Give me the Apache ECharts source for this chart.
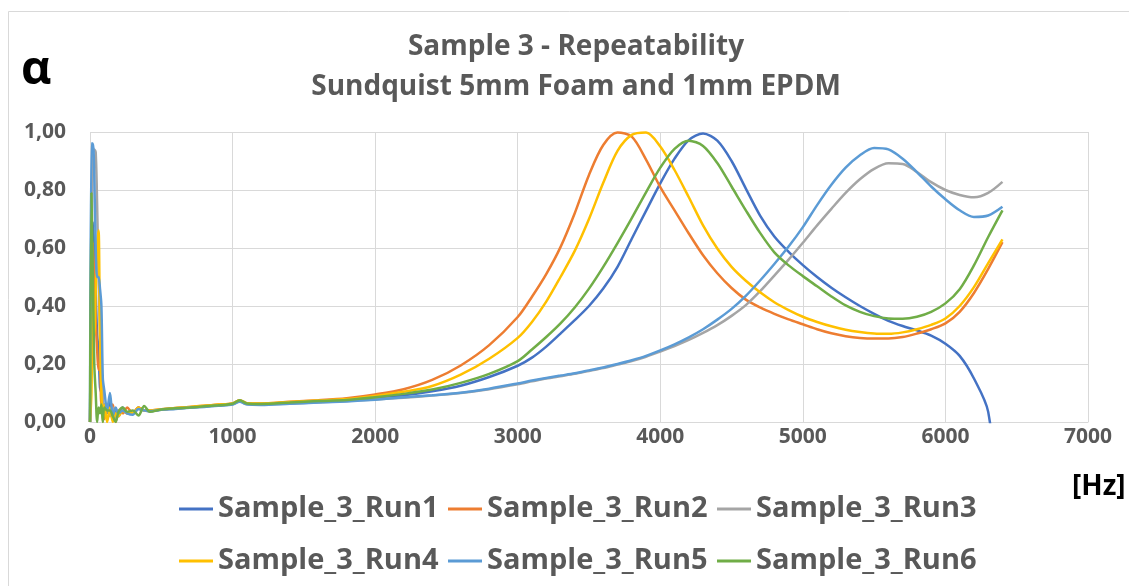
<!DOCTYPE html>
<html>
<head>
<meta charset="utf-8">
<script src="https://cdn.jsdelivr.net/npm/echarts@6/dist/echarts.min.js"></script>
<style>
html,body{margin:0;padding:0;background:#fff;}
#chart{width:1129px;height:586px;}
</style>
</head>
<body>
<div id="chart"></div>
<script>
// ---------- DATA ----------
const titleLines = ['Sample 3 - Repeatability', 'Sundquist 5mm Foam and 1mm EPDM'];
const seriesNames = ['Sample_3_Run1', 'Sample_3_Run2', 'Sample_3_Run3', 'Sample_3_Run4', 'Sample_3_Run5', 'Sample_3_Run6'];
const seriesColors = ['#4472C4', '#ED7D31', '#A5A5A5', '#FFC000', '#5B9BD5', '#70AD47'];

// frequencies [Hz]
const freqs = [0,10,20,30,40,50,60,70,80,90,100,
  120,140,160,180,200,230,260,300,340,380,420,
  500,600,700,800,900,1000,1050,1100,1200,
  1400,1600,1800,2000,2200,2400,2600,2800,
  3000,3100,3200,3300,3400,3500,3600,3700,3800,3900,
  4000,4100,4200,4300,4400,4500,4600,4700,4800,4900,
  5000,5100,5200,5300,5400,5500,5600,5700,5800,5900,
  6000,6100,6200,6300,6400];

const run1 = [0,0.55,0.69,0.6,0.45,0.3,0.25,0.12,0.1,0.04,0.06,
  0.03,0.07,0.01,0.04,0.02,0.05,0.03,0.03,0.05,0.04,0.038,
  0.043,0.047,0.05,0.054,0.058,0.062,0.072,0.062,0.061,
  0.065,0.069,0.075,0.082,0.092,0.106,0.125,0.155,
  0.194,0.222,0.26,0.305,0.351,0.4,0.46,0.535,0.632,0.728,
  0.823,0.908,0.972,0.995,0.97,0.9,0.805,0.712,0.64,0.587,
  0.541,0.5,0.463,0.43,0.4,0.373,0.349,0.331,0.316,0.298,
  0.27,0.228,0.15,0.035,-0.4];

const run2 = [0,0.3,0.62,0.5,0.35,0.25,0.18,0.2,0.06,0.06,0.01,
  0.05,0.03,0.06,0.0,0.04,0.03,0.05,0.03,0.05,0.04,0.04,
  0.044,0.048,0.052,0.056,0.06,0.064,0.075,0.065,0.064,
  0.07,0.075,0.082,0.095,0.113,0.145,0.195,0.265,
  0.362,0.432,0.51,0.603,0.72,0.852,0.955,0.998,0.984,0.905,
  0.81,0.73,0.65,0.575,0.513,0.462,0.422,0.395,0.373,0.354,
  0.337,0.32,0.306,0.296,0.29,0.288,0.288,0.293,0.305,0.32,
  0.34,0.38,0.445,0.528,0.62];

const run3 = [0,0.5,0.93,0.94,0.93,0.75,0.5,0.3,0.15,0.1,0.03,
  0.06,0.02,0.05,0.01,0.03,0.04,0.03,0.03,0.045,0.04,0.038,
  0.042,0.046,0.05,0.053,0.057,0.061,0.072,0.062,0.061,
  0.064,0.068,0.072,0.078,0.084,0.091,0.1,0.113,
  0.13,0.14,0.15,0.158,0.166,0.176,0.186,0.198,0.21,0.225,
  0.243,0.262,0.283,0.307,0.334,0.366,0.403,0.451,0.505,0.56,
  0.618,0.678,0.735,0.79,0.837,0.873,0.892,0.89,0.862,0.827,
  0.8,0.783,0.775,0.79,0.828];

const run4 = [0,0.1,0.4,0.3,0.45,0.6,0.66,0.3,0.1,0.0,0.06,
  0.0,0.05,0.0,0.03,0.02,0.04,0.03,0.03,0.05,0.04,0.04,
  0.044,0.048,0.052,0.056,0.06,0.064,0.075,0.065,0.064,
  0.069,0.074,0.079,0.09,0.104,0.124,0.163,0.218,
  0.29,0.345,0.415,0.5,0.59,0.7,0.825,0.935,0.99,0.998,
  0.95,0.869,0.775,0.678,0.598,0.535,0.487,0.447,0.413,0.386,
  0.363,0.345,0.33,0.318,0.31,0.305,0.304,0.309,0.32,0.335,
  0.357,0.4,0.465,0.548,0.63];

const run5 = [0,0.96,0.96,0.85,0.6,0.5,0.5,0.46,0.4,0.15,0.11,
  0.04,0.1,0.02,0.05,0.03,0.04,0.03,0.025,0.045,0.04,0.037,
  0.042,0.045,0.049,0.052,0.056,0.06,0.07,0.061,0.059,
  0.063,0.067,0.071,0.077,0.085,0.092,0.101,0.115,
  0.133,0.143,0.152,0.16,0.168,0.178,0.188,0.2,0.213,0.228,
  0.247,0.268,0.292,0.32,0.353,0.39,0.435,0.488,0.545,0.605,
  0.672,0.748,0.818,0.877,0.92,0.945,0.94,0.908,0.862,0.812,
  0.768,0.73,0.707,0.712,0.742];

const run6 = [0,0.79,0.5,0.2,0.1,0.0,0.05,0.03,0.06,0.0,0.05,
  0.04,0.04,0.02,0.0,0.035,0.05,0.035,0.04,0.022,0.055,0.035,
  0.043,0.047,0.05,0.054,0.058,0.063,0.075,0.064,0.062,
  0.067,0.072,0.076,0.085,0.097,0.112,0.135,0.166,
  0.21,0.25,0.293,0.34,0.395,0.46,0.535,0.617,0.703,0.792,
  0.877,0.942,0.97,0.952,0.893,0.812,0.73,0.652,0.585,0.54,
  0.503,0.468,0.433,0.402,0.38,0.365,0.357,0.356,0.363,0.38,
  0.409,0.458,0.54,0.638,0.73];

const runs = [run1, run2, run3, run4, run5, run6];

// axis settings
const xMin = 0, xMax = 7000, xStep = 1000;
const yMin = 0, yMax = 1, yStep = 0.2;

// ---------- CHART ----------
const FONT = 'Open Sans';
const chart = echarts.init(document.getElementById('chart'), null, {renderer: 'canvas'});

const series = runs.map((vals, i) => ({
  name: seriesNames[i],
  type: 'line',
  data: freqs.map((f, k) => [f, vals[k]]),
  showSymbol: false,
  smooth: 0.3,
  clip: true,
  lineStyle: {width: 2.5, color: seriesColors[i]},
  itemStyle: {color: seriesColors[i]},
  animation: false
}));

const legendCommon = {
  left: 179,
  padding: 0,
  itemWidth: 34,
  itemHeight: 3,
  itemGap: 8,
  icon: 'rect',
  selectedMode: false,
  textStyle: {fontFamily: FONT, fontWeight: 'bold', fontSize: 29, color: '#595959', width: 222, lineHeight: 30}
};

chart.setOption({
  backgroundColor: '#ffffff',
  color: seriesColors,
  animation: false,
  title: {
    text: titleLines.join('\n'),
    left: 571,
    top: 22,
    textAlign: 'center',
    textStyle: {fontFamily: FONT, fontWeight: 'bold', fontSize: 28, color: '#595959', lineHeight: 40}
  },
  grid: {left: 90, right: 41, top: 132, bottom: 164, containLabel: false},
  legend: [
    Object.assign({}, legendCommon, {top: 494, data: seriesNames.slice(0, 3)}),
    Object.assign({}, legendCommon, {top: 546, data: seriesNames.slice(3, 6)})
  ],
  xAxis: {
    type: 'value', min: xMin, max: xMax, interval: xStep,
    axisLine: {show: true, lineStyle: {color: '#d9d9d9', width: 1}},
    axisTick: {show: false},
    splitLine: {show: true, lineStyle: {color: '#d9d9d9', width: 1}},
    axisLabel: {fontFamily: FONT, fontWeight: 'bold', fontSize: 21, color: '#595959', margin: 5,
      formatter: v => String(v)}
  },
  yAxis: {
    type: 'value', min: yMin, max: yMax, interval: yStep,
    axisLine: {show: false},
    axisTick: {show: false},
    splitLine: {show: true, lineStyle: {color: '#d9d9d9', width: 1}},
    axisLabel: {
      fontFamily: FONT, fontWeight: 'bold', fontSize: 21, color: '#595959', margin: 24,
      formatter: v => v.toFixed(2).replace('.', ',')
    }
  },
  graphic: [
    {type: 'rect', z: -10, silent: true, shape: {x: 8.5, y: 11.5, width: 1140, height: 600},
      style: {fill: 'none', stroke: '#d9d9d9', lineWidth: 1}},
    {type: 'text', left: 21, top: 47, style: {text: 'α', fontFamily: FONT, fontWeight: 'bold', fontSize: 47, fill: '#000000'}},
    {type: 'text', left: 1072, top: 473, style: {text: '[Hz]', fontFamily: FONT, fontWeight: 'bold', fontSize: 28, fill: '#000000'}}
  ],
  series: series
});
</script>
</body>
</html>
